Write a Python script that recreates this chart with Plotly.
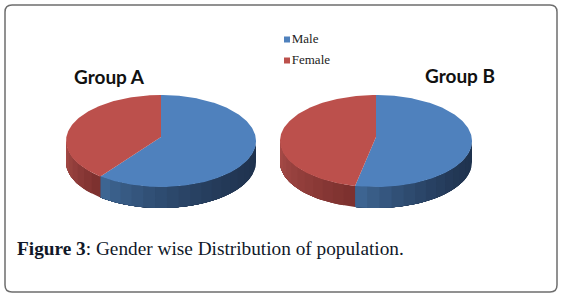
import math
import plotly.graph_objects as go

groups = ["Group A", "Group B"]
categories = ["Male", "Female"]
male_share = [61.0, 53.5]
female_share = [39.0, 46.5]
top_colors = ["#4f81bd", "#bc504c"]
wall_light = ["#3f6896", "#ab4e4a"]
wall_dark = ["#1f324e", "#7d312f"]
caption_bold = "Figure 3"
caption_rest = ": Gender wise Distribution of population."

W, H = 561, 294
CENTERS = [(161.0, 95.0), (376.0, 96.0)]
CY, RY, APEX_Y, DEPTH = 141.0, 46.0, 137.0, 21.0


def mix(a, b, f):
    ca = [int(a[i:i + 2], 16) for i in (1, 3, 5)]
    cb = [int(b[i:i + 2], 16) for i in (1, 3, 5)]
    return "rgb(%d,%d,%d)" % tuple(round(x + (y - x) * f) for x, y in zip(ca, cb))


def pt(cx, rx, deg, dy=0.0):
    r = math.radians(deg)
    return cx + rx * math.sin(r), CY - RY * math.cos(r) + dy


fig = go.Figure()


def poly(xs, ys, color):
    fig.add_trace(go.Scatter(x=xs, y=ys, mode="lines", fill="toself", fillcolor=color,
                             line=dict(width=0), showlegend=False, hoverinfo="skip"))


for (cx, rx), m, f in zip(CENTERS, male_share, female_share):
    split = 360.0 * m / (m + f)
    spans = [(0.0, split), (split, 360.0)]
    for k, (a0, a1) in enumerate(spans):
        lo, hi = max(a0, 90.0), min(a1, 270.0)
        if hi <= lo:
            continue
        n = max(2, int((hi - lo) / 7))
        for i in range(n):
            frac = (i + 0.5) / n
            t0 = lo + (hi - lo) * i / n
            if k == 0:
                color = mix(wall_dark[0], wall_light[0], frac ** 2.0)
            else:
                color = mix(wall_dark[1], wall_light[1], (t0 - a0) / max(270.0 - a0, 1.0))
            pts = [t0 + (hi - t0) * j / 24 for j in range(25)]
            up = [pt(cx, rx, t) for t in pts]
            dn = [pt(cx, rx, t, DEPTH) for t in reversed(pts)]
            poly([p[0] for p in up + dn], [p[1] for p in up + dn], color)
    for k, (a0, a1) in enumerate(spans):
        n = int(a1 - a0) + 1
        arc = [pt(cx, rx, a0 + (a1 - a0) * j / n) for j in range(n + 1)]
        poly([cx] + [p[0] for p in arc] + [cx], [APEX_Y] + [p[1] for p in arc] + [APEX_Y], top_colors[k])

fig.add_trace(go.Scatter(
    x=[287, 287], y=[39.5, 60.5], mode="markers+text", text=categories,
    textposition="middle right", showlegend=False, hoverinfo="skip",
    marker=dict(symbol="square", size=6, color=top_colors),
    textfont=dict(family="Liberation Serif", size=13, color="#222222")))

r = 7
x0, y0, x1, y1 = 5, 5, 557, 292
frame = (f"M{x0+r},{y0} L{x1-r},{y0} Q{x1},{y0} {x1},{y0+r} L{x1},{y1-r} Q{x1},{y1} {x1-r},{y1} "
         f"L{x0+r},{y1} Q{x0},{y1} {x0},{y1-r} L{x0},{y0+r} Q{x0},{y0} {x0+r},{y0} Z")

anns = [
    dict(x=109.5, y=76, text=f"<b>{groups[0]}</b>", font=dict(family="Lato", size=19, color="#111111")),
    dict(x=459.5, y=75.5, text=f"<b>{groups[1]}</b>", font=dict(family="Lato", size=19, color="#111111")),
    dict(x=15, y=248, xanchor="left", text=f"<b>{caption_bold}</b>{caption_rest}",
         font=dict(family="Liberation Serif", size=19.3, color="#101828")),
]
for a in anns:
    a.update(xref="x", yref="y", showarrow=False)

fig.update_layout(
    width=W, height=H, autosize=False,
    margin=dict(l=0, r=0, t=0, b=0),
    paper_bgcolor="white", plot_bgcolor="white",
    xaxis=dict(range=[0, W], visible=False, fixedrange=True),
    yaxis=dict(range=[H, 0], visible=False, fixedrange=True),
    shapes=[dict(type="path", path=frame, xref="x", yref="y",
                 line=dict(color="#6e6e6e", width=1.5), layer="below")],
    annotations=anns,
    showlegend=False,
)
fig.write_html("out.html", config=dict(displayModeBar=False),
               post_script="document.body.style.margin='0';document.body.style.overflow='hidden';")
